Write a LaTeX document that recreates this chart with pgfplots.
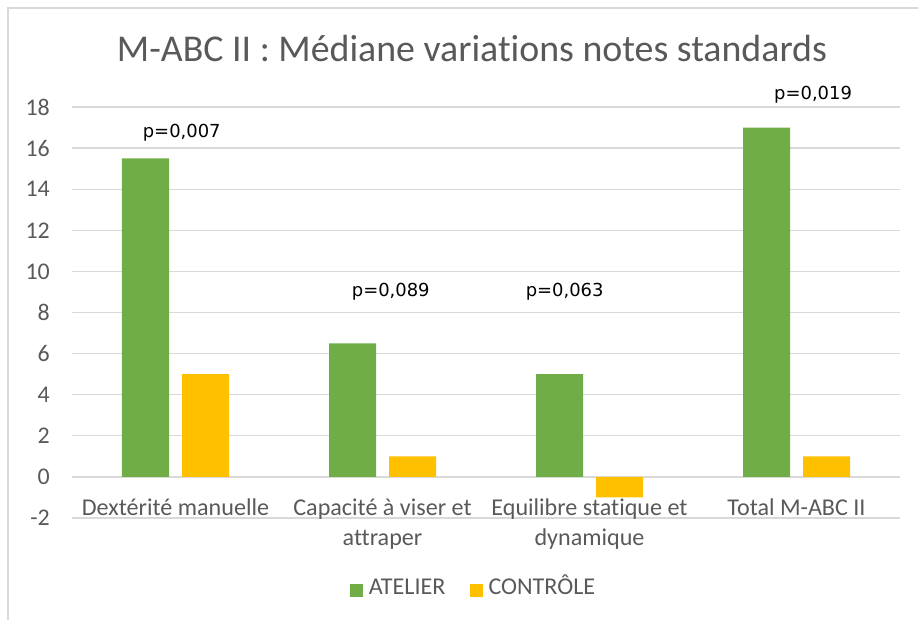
\documentclass[border=0pt]{standalone}
\usepackage{pgfplots}
\pgfplotsset{compat=1.18}
\usepackage{fontspec}
\setmainfont{Carlito}[Ligatures=NoCommon]
\newfontfamily\pfont{DejaVu Sans}
\definecolor{atelier}{HTML}{70AD47}
\definecolor{controle}{HTML}{FFC000}
\definecolor{txt}{HTML}{595959}
\definecolor{grd}{HTML}{D9D9D9}
\begin{document}
\begin{tikzpicture}
\begin{axis}[
  scale only axis, width=828bp, height=411bp,
  xmin=-0.5, xmax=3.5, ymin=-2, ymax=18,
  ytick={-2,0,...,18},
  xtick=\empty,
  ybar=13bp, bar width=47bp,
  axis line style={draw=none},
  major tick length=0pt,
  ymajorgrids, grid style={grd, line width=1.3bp},
  yticklabel style={font=\fontsize{24}{28}\selectfont, text=txt, inner sep=0pt, xshift=-22bp},
  /pgf/number format/assume math mode=true,
  clip=false,
  legend columns=2,
  legend style={at={(0.4855,-0.168)}, anchor=center, draw=none, fill=none,
    font=\fontsize{24.2}{28}\selectfont, text=txt,
    nodes={text height=15bp, text depth=0bp, inner sep=3bp},
    /tikz/every even column/.append style={column sep=21bp}},
]
\addplot[fill=atelier, draw=none, legend image code/.code={\fill[atelier] (-5bp,-10bp) rectangle (8bp,3bp); \path (11bp,-10bp);}] coordinates {(0,15.5) (1,6.5) (2,5) (3,17)};
\addplot[fill=controle, draw=none, legend image code/.code={\fill[controle] (-5bp,-10bp) rectangle (8bp,3bp); \path (11bp,-10bp);}] coordinates {(0,5) (1,1) (2,-1) (3,1)};
\legend{ATELIER, CONTRÔLE}
\node[anchor=base, font=\fontsize{38}{44}\selectfont, text=txt, inner sep=0pt] at ([yshift=45bp]rel axis cs:0.483,1) {M-ABC II : Médiane variations notes standards};
\node[anchor=base, font=\fontsize{24.2}{30}\selectfont, text=txt, inner sep=0pt] at ([yshift=-39bp]axis cs:0,0) {Dextérité manuelle};
\node[anchor=base, font=\fontsize{24.2}{30}\selectfont, text=txt, inner sep=0pt] at ([yshift=-39bp]axis cs:1,0) {Capacité à viser et};
\node[anchor=base, font=\fontsize{24.2}{30}\selectfont, text=txt, inner sep=0pt] at ([yshift=-69bp]axis cs:1,0) {attraper};
\node[anchor=base, font=\fontsize{24.2}{30}\selectfont, text=txt, inner sep=0pt] at ([yshift=-39bp]axis cs:2,0) {Equilibre statique et};
\node[anchor=base, font=\fontsize{24.2}{30}\selectfont, text=txt, inner sep=0pt] at ([yshift=-69bp]axis cs:2,0) {dynamique};
\node[anchor=base, font=\fontsize{24.2}{30}\selectfont, text=txt, inner sep=0pt] at ([yshift=-39bp]axis cs:3,0) {Total M-ABC II};
\node[font=\pfont\fontsize{18}{20}\selectfont, text=black] at (axis cs:0.03,16.73) {p=0,007};
\node[font=\pfont\fontsize{18}{20}\selectfont, text=black] at (axis cs:1.04,9.0) {p=0,089};
\node[font=\pfont\fontsize{18}{20}\selectfont, text=black] at (axis cs:1.88,9.0) {p=0,063};
\node[font=\pfont\fontsize{18}{20}\selectfont, text=black] at (axis cs:3.08,18.58) {p=0,019};
\end{axis}
\pgfresetboundingbox
\path[use as bounding box] ([shift={(-72bp,-102bp)}]current axis.south west) rectangle ([shift={(18bp,107bp)}]current axis.north east);
\draw[grd, line width=1.5bp] ([shift={(-64bp,-102bp)}]current axis.south west) -- ([shift={(-64bp,99bp)}]current axis.north west) -- ([shift={(18bp,99bp)}]current axis.north east);
\end{tikzpicture}
\end{document}
